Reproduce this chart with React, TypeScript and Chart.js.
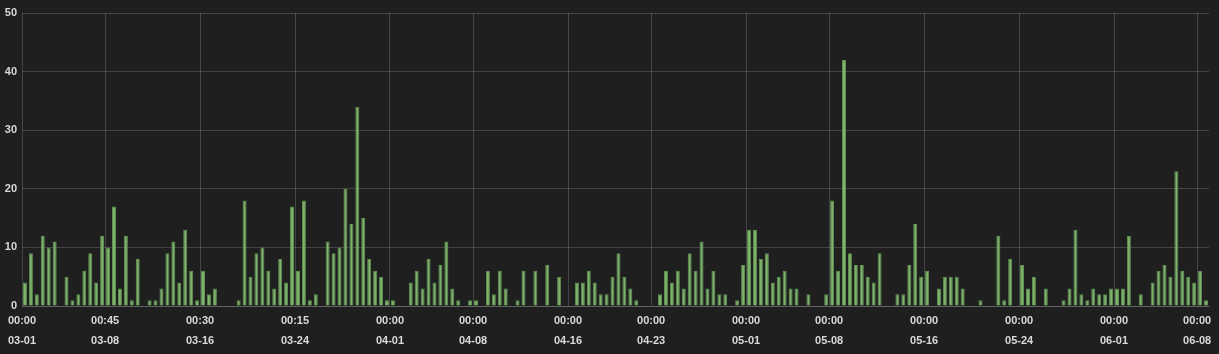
import React, { useEffect, useRef } from "react";
import { Chart, registerables } from "chart.js";

Chart.register(...registerables);

// One bar per 12-hour bucket, starting 03-01 00:00 (200 buckets, to 06-09 00:00)
const VALUES: number[] = [
  4, 9, 2, 12, 10, 11, 0, 5, 1, 2,
  6, 9, 4, 12, 10, 17, 3, 12, 1, 8,
  0, 1, 1, 3, 9, 11, 4, 13, 6, 1,
  6, 2, 3, 0, 0, 0, 1, 18, 5, 9,
  10, 6, 3, 8, 4, 17, 6, 18, 1, 2,
  0, 11, 9, 10, 20, 14, 34, 15, 8, 6,
  5, 1, 1, 0, 0, 4, 6, 3, 8, 4,
  7, 11, 3, 1, 0, 1, 1, 0, 6, 2,
  6, 3, 0, 1, 6, 0, 6, 0, 7, 0,
  5, 0, 0, 4, 4, 6, 4, 2, 2, 5,
  9, 5, 3, 1, 0, 0, 0, 2, 6, 4,
  6, 3, 9, 6, 11, 3, 6, 2, 2, 0,
  1, 7, 13, 13, 8, 9, 4, 5, 6, 3,
  3, 0, 2, 0, 0, 2, 18, 6, 42, 9,
  7, 7, 5, 4, 9, 0, 0, 2, 2, 7,
  14, 5, 6, 0, 3, 5, 5, 5, 3, 0,
  0, 1, 0, 0, 12, 1, 8, 0, 7, 3,
  5, 0, 3, 0, 0, 1, 3, 13, 2, 1,
  3, 2, 2, 3, 3, 3, 12, 0, 2, 0,
  4, 6, 7, 5, 23, 6, 5, 4, 6, 1,
];

// Tick positions in 12-hour buckets from 03-01 00:00
const TICK_POS: number[] = [0, 14, 30, 46, 62, 76, 92, 106, 122, 136, 152, 168, 184, 198];
const TICK_TIME: string[] = [
  "00:00", "00:45", "00:30", "00:15", "00:00", "00:00", "00:00",
  "00:00", "00:00", "00:00", "00:00", "00:00", "00:00", "00:00",
];
const TICK_DATE: string[] = [
  "03-01", "03-08", "03-16", "03-24", "04-01", "04-08", "04-16",
  "04-23", "05-01", "05-08", "05-16", "05-24", "06-01", "06-08",
];

const Y_MAX = 50;
const Y_STEP = 10;

const BG = "#1f1f20";
const TEXT = "#d8d9da";
const GRID = "rgba(255,255,255,0.17)";
const BAR_FILL = "#7eb26d";
const BAR_BORDER = "#5f934f";

export default function App() {
  const ref = useRef<HTMLCanvasElement | null>(null);

  useEffect(() => {
    document.body.style.margin = "0";
    document.body.style.background = BG;
    const canvas = ref.current;
    if (!canvas) return;
    const font = { family: "'Liberation Sans', Arial, sans-serif", size: 11, weight: "bold" as const };
    const chart = new Chart(canvas, {
      type: "bar",
      data: {
        datasets: [
          {
            data: VALUES.map((v, i) => ({ x: i + 0.5, y: v === 0 ? null : v })),
            backgroundColor: BAR_FILL,
            borderColor: BAR_BORDER,
            borderWidth: 1,
            borderSkipped: "start",
            categoryPercentage: 1,
            barPercentage: 0.674,
          } as any,
        ],
      },
      options: {
        animation: false,
        responsive: false,
        maintainAspectRatio: false,
        layout: { padding: { top: 13, right: 10, left: 0, bottom: 0 } },
        plugins: { legend: { display: false }, tooltip: { enabled: false } },
        scales: {
          x: {
            type: "linear",
            min: 0,
            max: VALUES.length,
            offset: false,
            grid: { color: GRID, drawTicks: false, offset: false, lineWidth: 1 },
            border: { display: true, color: GRID },
            afterBuildTicks: (scale: any) => {
              scale.ticks = TICK_POS.map((v) => ({ value: v }));
            },
            afterFit: (scale: any) => {
              scale.height = 48;
            },
            ticks: {
              color: TEXT,
              font: { ...font, lineHeight: 20 / 11 },
              padding: 5,
              maxRotation: 0,
              autoSkip: false,
              callback: (value: any) => {
                const k = TICK_POS.indexOf(Number(value));
                return k >= 0 ? [TICK_TIME[k], TICK_DATE[k]] : "";
              },
            },
          },
          y: {
            min: 0,
            max: Y_MAX,
            grid: { color: GRID, drawTicks: false },
            border: { display: false },
            afterFit: (scale: any) => {
              scale.width = 22;
            },
            ticks: {
              stepSize: Y_STEP,
              color: TEXT,
              font,
              padding: 5,
            },
          },
        },
      },
    });
    return () => chart.destroy();
  }, []);

  return (
    <div style={{ width: 1219, height: 354, background: BG }}>
      <canvas ref={ref} width={1219} height={354} style={{ display: "block" }} />
    </div>
  );
}
